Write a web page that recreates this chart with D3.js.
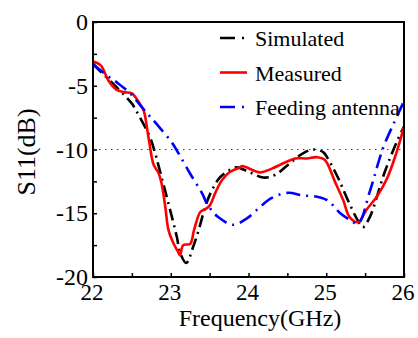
<!DOCTYPE html>
<html>
<head>
<meta charset="utf-8">
<script src="https://cdn.jsdelivr.net/npm/d3@7"></script>
<style>
  body { margin: 0; background: #fff; }
</style>
</head>
<body>
<div id="chart"></div>
<script>
// frequency (GHz) / S11 (dB)
var simFreq = [22.0, 22.25, 22.43, 22.5, 22.56, 22.73, 22.8, 22.84, 22.9, 22.99, 23.08, 23.12, 23.2, 23.29, 23.35, 23.46, 23.53, 23.63, 23.76, 23.85, 24.02, 24.19, 24.34, 24.51, 24.7, 24.83, 24.96, 25.02, 25.15, 25.28, 25.4, 25.47, 25.56, 25.75, 25.9, 26.0];
var simS11 = [-3.3, -4.8, -5.9, -6.4, -7.0, -9.0, -10.3, -11.2, -12.6, -14.7, -16.9, -18.1, -18.9, -17.6, -16.5, -14.2, -13.2, -12.2, -11.6, -11.4, -11.8, -12.2, -12.0, -11.2, -10.3, -10.0, -10.2, -10.7, -12.2, -14.0, -15.5, -16.1, -15.3, -11.8, -9.5, -8.2];

var measFreq = [22.0, 22.1, 22.2, 22.3, 22.4, 22.5, 22.6, 22.65, 22.72, 22.78, 22.84, 22.88, 22.93, 22.97, 23.03, 23.1, 23.12, 23.16, 23.25, 23.3, 23.38, 23.44, 23.5, 23.58, 23.66, 23.75, 23.89, 23.92, 24.15, 24.3, 24.6, 24.75, 24.88, 24.98, 25.11, 25.22, 25.3, 25.41, 25.52, 25.65, 25.78, 25.9, 26.0];
var measS11 = [-3.1, -3.4, -4.6, -5.3, -5.5, -5.6, -6.4, -6.9, -9.3, -11.2, -11.8, -12.6, -14.5, -16.3, -17.3, -18.1, -18.3, -17.5, -17.4, -16.3, -14.9, -14.7, -14.4, -13.3, -12.4, -11.8, -11.4, -11.3, -11.8, -11.5, -10.7, -10.7, -10.6, -10.8, -12.5, -14.0, -15.3, -15.7, -14.7, -13.7, -12.3, -10.3, -8.2];

var feedFreq = [22.0, 22.18, 22.32, 22.48, 22.63, 22.73, 22.86, 23.02, 23.1, 23.25, 23.4, 23.48, 23.61, 23.8, 23.98, 24.15, 24.3, 24.5, 24.7, 24.88, 25.02, 25.18, 25.3, 25.41, 25.56, 25.73, 25.88, 25.97, 26.0];
var feedS11 = [-3.3, -4.2, -4.8, -5.6, -6.7, -7.4, -8.3, -9.5, -10.3, -11.9, -13.4, -14.4, -15.3, -15.9, -15.4, -14.5, -13.8, -13.4, -13.6, -13.7, -14.0, -15.0, -15.5, -15.8, -13.3, -9.9, -7.8, -6.6, -6.2];

var xTicks = [22, 23, 24, 25, 26];
var yTicks = [0, -5, -10, -15, -20];

var series = [
  {name: 'Simulated', freq: simFreq, s11: simS11, color: '#000000', dash: '12,5,2,5'},
  {name: 'Measured', freq: measFreq, s11: measS11, color: '#ff0000', dash: null},
  {name: 'Feeding antenna', freq: feedFreq, s11: feedS11, color: '#0000ff', dash: '14,6,2,6'}
];

var width = 418, height = 338;
var margin = {top: 22, right: 14, bottom: 61, left: 93};
var serif = "'Liberation Serif', serif";

var svg = d3.select('#chart').append('svg')
  .attr('width', width)
  .attr('height', height)
  .style('font-family', serif);

var x = d3.scaleLinear().domain([22, 26]).range([margin.left, width - margin.right]);
var y = d3.scaleLinear().domain([-20, 0]).range([height - margin.bottom, margin.top]);

svg.append('clipPath').attr('id', 'plot')
  .append('rect')
  .attr('x', margin.left).attr('y', margin.top)
  .attr('width', x(26) - x(22)).attr('height', y(-20) - y(0));

// -10 dB reference line
svg.append('line')
  .attr('x1', x(22)).attr('x2', x(26))
  .attr('y1', y(-10)).attr('y2', y(-10))
  .attr('stroke', '#444')
  .attr('stroke-width', 1.2)
  .attr('stroke-dasharray', '1.5,4.5');

var line = d3.line()
  .curve(d3.curveCatmullRom.alpha(0.5));

series.forEach(function(s) {
  var pts = s.freq.map(function(f, i) { return [x(f), y(s.s11[i])]; });
  svg.append('path')
    .attr('clip-path', 'url(#plot)')
    .attr('d', line(pts))
    .attr('fill', 'none')
    .attr('stroke', s.color)
    .attr('stroke-width', 2.6)
    .attr('stroke-dasharray', s.dash);
});

// axes, ticks inward
var bottom = svg.append('g')
  .attr('transform', 'translate(0,' + y(-20) + ')')
  .call(d3.axisBottom(x).tickValues(d3.range(22, 26.01, 0.5)).tickSize(-4).tickFormat(''));
var left = svg.append('g')
  .attr('transform', 'translate(' + x(22) + ',0)')
  .call(d3.axisLeft(y).tickValues(d3.range(-20, 0.01, 2.5)).tickSize(-4).tickFormat(''));
[bottom, left].forEach(function(g) {
  g.select('.domain').remove();
  g.selectAll('line').attr('stroke', '#000').attr('stroke-width', 1.5);
});

svg.append('rect')
  .attr('x', x(22)).attr('y', y(0))
  .attr('width', x(26) - x(22)).attr('height', y(-20) - y(0))
  .attr('fill', 'none')
  .attr('stroke', '#000')
  .attr('stroke-width', 2);

svg.selectAll('.xlab').data(xTicks).enter().append('text')
  .style('font-family', serif)
  .attr('x', function(d) { return x(d) - 1; })
  .attr('y', y(-20) + 23)
  .attr('text-anchor', 'middle')
  .attr('font-size', 23)
  .text(function(d) { return d; });

svg.selectAll('.ylab').data(yTicks).enter().append('text')
  .style('font-family', serif)
  .attr('x', x(22) - 5)
  .attr('y', function(d) { return y(d) + 8; })
  .attr('text-anchor', 'end')
  .attr('font-size', 24)
  .text(function(d) { return d; });

svg.append('text')
  .style('font-family', serif)
  .attr('x', 260)
  .attr('y', 326)
  .attr('text-anchor', 'middle')
  .attr('font-size', 24)
  .text('Frequency(GHz)');

svg.append('text')
  .style('font-family', serif)
  .attr('transform', 'translate(35,152) rotate(-90)')
  .attr('text-anchor', 'middle')
  .attr('font-size', 26)
  .text('S11(dB)');

// legend
var legend = svg.append('g').style('font-family', serif);
series.forEach(function(s, i) {
  var ly = 38 + i * 34.5;
  legend.append('line')
    .attr('x1', 220).attr('x2', s.dash ? 245 : 247)
    .attr('y1', ly).attr('y2', ly)
    .attr('stroke', s.color)
    .attr('stroke-width', 2.6)
    .attr('stroke-dasharray', s.dash ? '15,7,2,20' : null);
  legend.append('text')
    .style('font-family', serif)
    .attr('x', 255)
    .attr('y', ly + 8)
    .attr('font-size', 22)
    .text(s.name);
});
</script>
</body>
</html>
